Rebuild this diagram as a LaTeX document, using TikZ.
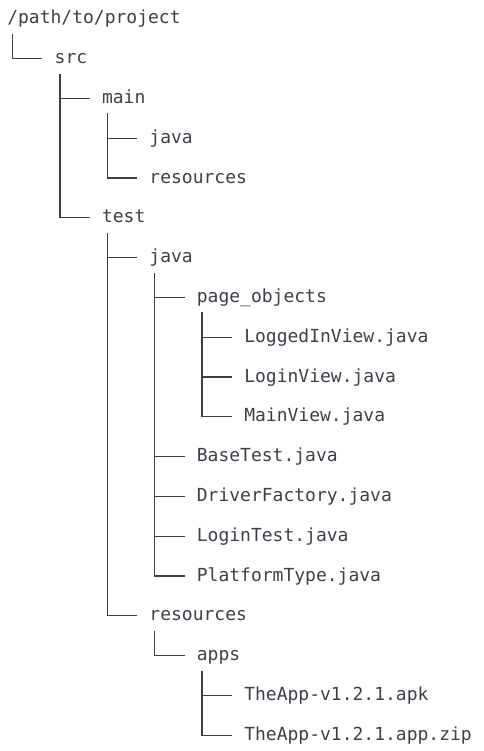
\documentclass[tikz,border=0pt]{standalone}
\usepackage{fontspec}
\setmonofont{DejaVu Sans Mono}
\usepackage{xcolor}
\usetikzlibrary{
		calc,
		positioning
	}
\definecolor{treeink}{HTML}{3B4049}
\tikzset{
		entry/.style={anchor=base west, inner sep=0pt, text=treeink,
			font=\ttfamily\fontsize{13.5}{16}\selectfont},
		branch/.style={draw=treeink, line width=1pt}
	}
% trunk: from below the parent down to its last child
\newcommand{\trunk}[2]{\draw[branch] ($(#1.base west)+(5.5,10)$) |- ($(#2.base west)+(-12,-5)$);}
% twig: short stub from the trunk across to a child
\newcommand{\twig}[1]{\draw[branch] ($(#1.base west)+(-41.9,-5)$) -- ($(#1.base west)+(-12,-5)$);}

\begin{document}
\begin{tikzpicture}[x=0.75pt, y=-0.75pt]
		\useasboundingbox (0,0) rectangle (484,751);
		% rows are 39.8 apart, levels 47.4 apart
		\node[entry] (root)      at (7,    23.8) {/path/to/project};
		\node[entry] (src)       at (54.4, 63.6) {src};
		\node[entry] (main)      at (101.8,103.4) {main};
		\node[entry] (mainjava)  at (149.2,143.2) {java};
		\node[entry] (mainres)   at (149.2,183.0) {resources};
		\node[entry] (test)      at (101.8,222.8) {test};
		\node[entry] (testjava)  at (149.2,262.6) {java};
		\node[entry] (pageobj)   at (196.6,302.4) {page\_objects};
		\node[entry] (loggedin)  at (244,  342.2) {LoggedInView.java};
		\node[entry] (loginview) at (244,  382.0) {LoginView.java};
		\node[entry] (mainview)  at (244,  421.8) {MainView.java};
		\node[entry] (basetest)  at (196.6,461.6) {BaseTest.java};
		\node[entry] (driverfac) at (196.6,501.4) {DriverFactory.java};
		\node[entry] (logintest) at (196.6,541.2) {LoginTest.java};
		\node[entry] (platform)  at (196.6,581.0) {PlatformType.java};
		\node[entry] (testres)   at (149.2,620.8) {resources};
		\node[entry] (apps)      at (196.6,660.6) {apps};
		\node[entry] (apk)       at (244,  700.4) {TheApp-v1.2.1.apk};
		\node[entry] (appzip)    at (244,  740.2) {TheApp-v1.2.1.app.zip};

		\trunk{root}{src}
		\trunk{src}{test}
		\twig{main}
		\trunk{main}{mainres}
		\twig{mainjava}
		\trunk{test}{testres}
		\twig{testjava}
		\trunk{testjava}{platform}
		\twig{pageobj}
		\twig{basetest}
		\twig{driverfac}
		\twig{logintest}
		\trunk{pageobj}{mainview}
		\twig{loggedin}
		\twig{loginview}
		\trunk{testres}{apps}
		\trunk{apps}{appzip}
		\twig{apk}
	\end{tikzpicture}
\end{document}
